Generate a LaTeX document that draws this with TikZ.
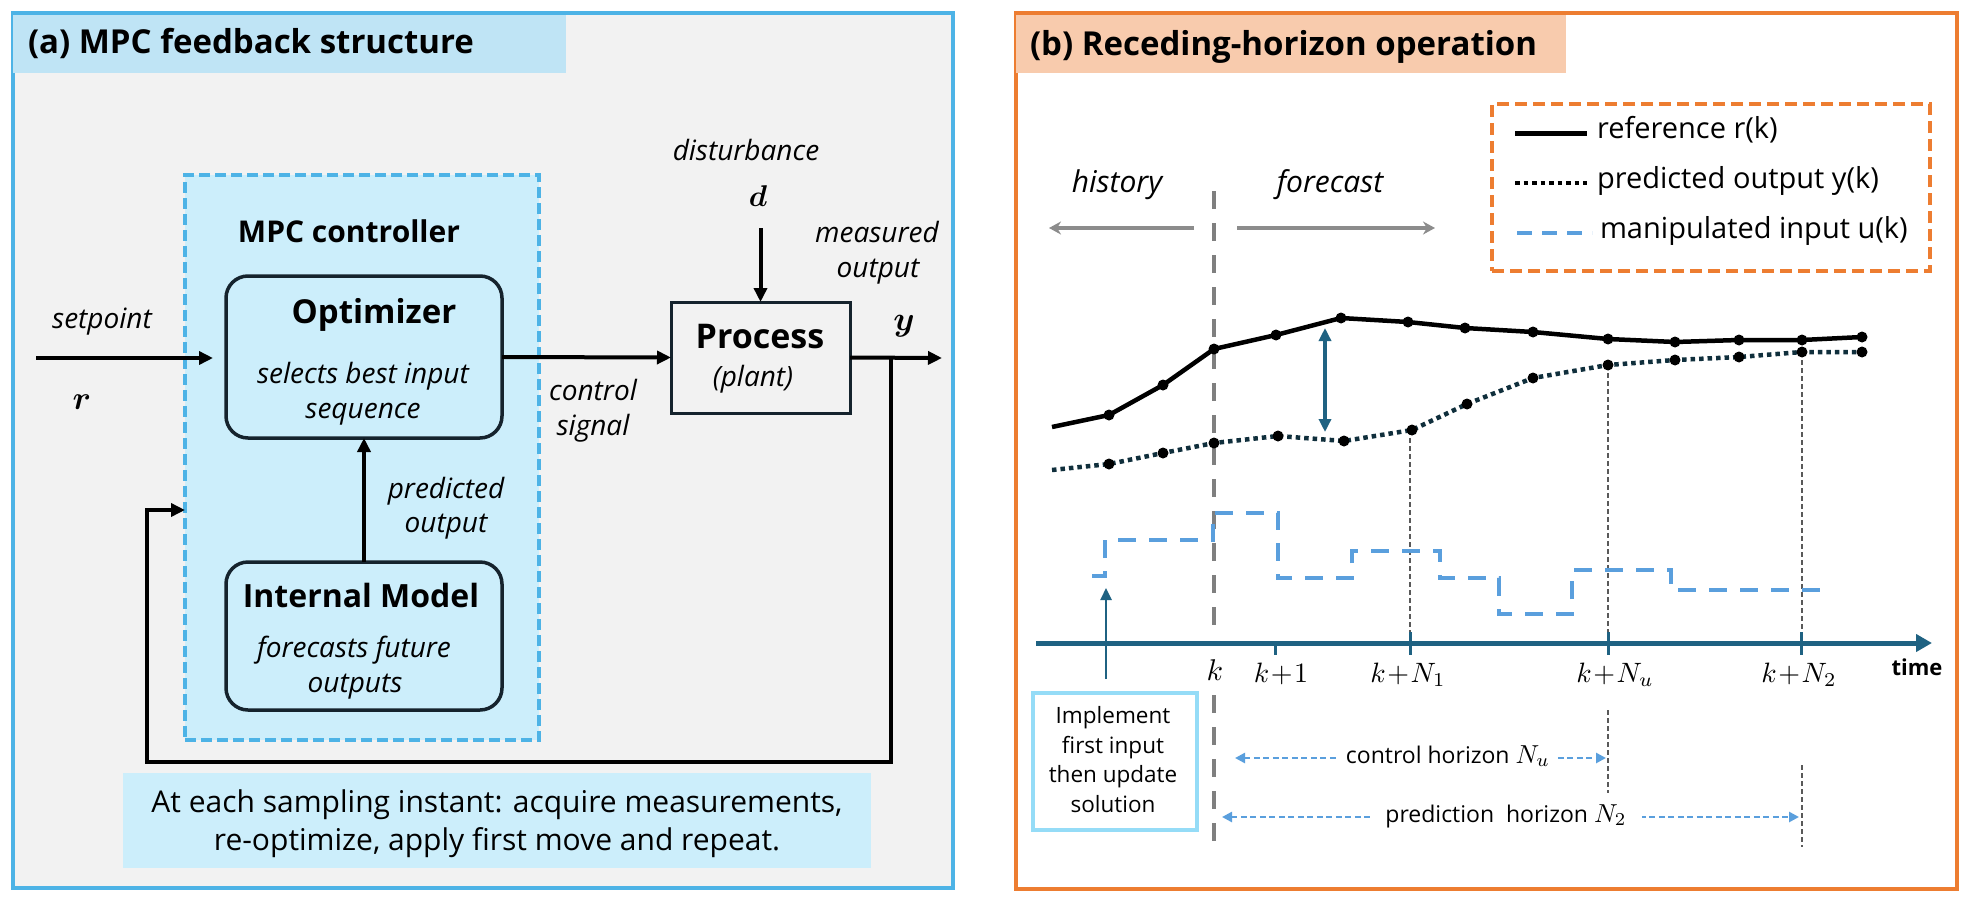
\RequirePackage{fix-cm}
\documentclass[tikz,border=0pt]{standalone}
\usepackage{amsmath}
\usepackage{bm}
\usepackage{graphicx}
\usepackage{fontspec}
\setmainfont{Open Sans}
\usetikzlibrary{arrows.meta}
\definecolor{blueA}{HTML}{4DB3E6}
\definecolor{bgA}{HTML}{F2F2F2}
\definecolor{titleA}{HTML}{BFE4F5}
\definecolor{ctrlFill}{HTML}{CCEEFB}
\definecolor{darkB}{HTML}{15232D}
\definecolor{orangeB}{HTML}{ED7D31}
\definecolor{titleB}{HTML}{F8CBAD}
\definecolor{tealC}{HTML}{1F6282}
\definecolor{blueD}{HTML}{5A9FDD}
\definecolor{cyanB}{HTML}{95DCF7}
\definecolor{grayK}{HTML}{7F7F7F}
\definecolor{grayArr}{HTML}{8C8C8C}
\definecolor{dotC}{HTML}{102F3C}
\newcommand\fsz[1]{\fontsize{#1}{#1}\selectfont}
\newcommand\kp{\mkern1mu{+}\mkern1mu}
% math at 10pt, scaled up
\newcommand\mth[2]{\scalebox{#1}{\fsz{10}$#2$}}
\begin{document}
\begin{tikzpicture}[x=1pt,y=-1pt,
  every node/.style={inner sep=0pt, outer sep=0pt},
  bfA/.style={anchor=base, font=\fsz{#1}\bfseries},
  itA/.style={anchor=base, font=\fsz{#1}\itshape},
  rgA/.style={anchor=base, font=\fsz{#1}},
  arr/.style={-{Triangle[length=14pt,width=13pt]}, line width=4pt},
  blockbox/.style={draw=darkB, line width=3.5pt, fill=ctrlFill, rounded corners=22pt},
  kline/.style={grayK, line width=4.5pt, dash pattern=on 18pt off 14pt},
  thinv/.style={black!65, line width=1.5pt, dash pattern=on 5pt off 3pt},
  hz/.style={blueD, line width=2.5pt, dash pattern=on 6pt off 3.5pt,
     {Triangle[length=10pt,width=10pt]}-{Triangle[length=10pt,width=10pt]}},
  grarr/.style={grayArr, line width=4pt, -{Stealth[length=12pt,width=13pt]}},
  dotline/.style={dotC, line width=4.5pt, dash pattern=on 4.5pt off 4pt},
  udash/.style={blueD, line width=4.5pt, dash pattern=on 18pt off 13pt},
]
\useasboundingbox (0,0) rectangle (1968,900);
% ================= panel (a) =================
\fill[bgA] (13,13) rectangle (953,888);
\draw[blueA, line width=4.5pt] (13,13) rectangle (953,888);
\fill[titleA] (13,15) rectangle (566,73);
\node[bfA=33, anchor=base west] (titleAT) at (28,53) {(a) MPC feedback structure};

\node[draw=blueA, line width=3.5pt, dash pattern=on 11pt off 5pt, fill=ctrlFill,
      minimum width=354pt, minimum height=565pt] (ctrl) at (362,457.5) {};
\node[bfA=30] (ctrlT) at (349,242) {MPC controller};

\node[blockbox, minimum width=276pt, minimum height=162pt] (opt) at (364,357) {};
\node[bfA=33] (optT) at (374,323) {Optimizer};
\node[itA=28] (optS1) at (363,383) {selects best input};
\node[itA=28] (optS2) at (363,418) {sequence};

\node[blockbox, minimum width=276pt, minimum height=148pt] (im) at (364,636) {};
\node[bfA=32] (imT) at (361,607) {Internal Model};
\node[itA=28] (imS1) at (354,657) {forecasts future};
\node[itA=28] (imS2) at (355,692) {outputs};

\node[draw=darkB, line width=3pt, fill=bgA, minimum width=179pt, minimum height=111pt] (proc) at (760.5,357.5) {};
\node[bfA=34] (procT) at (760,348) {Process};
\node[itA=28] (procS) at (753,386) {(plant)};

\node[itA=28] (dist) at (746,160) {disturbance};
\node[anchor=base] (dT) at (758,206) {\mth{3.0}{\bm{d}}};
\node[itA=28] (meas1) at (877,242) {measured};
\node[itA=28] (meas2) at (878,277) {output};
\node[anchor=base] (yT) at (904,330) {\mth{3.4}{\bm{y}}};
\node[itA=28] (spT) at (102,328) {setpoint};
\node[anchor=base] (rT) at (82,409) {\mth{3.3}{\bm{r}}};
\node[itA=28] (cs1) at (593,400) {control};
\node[itA=28] (cs2) at (593,435) {signal};
\node[itA=28] (po1) at (446,498) {predicted};
\node[itA=28] (po2) at (446,532) {output};

\fill[ctrlFill] (123,773) rectangle (871,868);
\node[rgA=30] (note1) at (497,812) {At each sampling instant: acquire measurements,};
\node[rgA=30] (note2) at (497,850) {re-optimize, apply first move and repeat.};

% connectors (a)
\coordinate (rin) at (36,358);
\coordinate (rtip) at (213,358);
\draw[arr] (rin) -- (rtip);
\draw[arr] (opt.east) -- (proc.west);
\coordinate (dtop) at (760.5,228);
\draw[arr] (dtop) -- (proc.north);
\coordinate (yout) at (942,358);
\draw[arr] (proc.east) -- (yout);
\draw[arr] (im.north) -- (opt.south);
\coordinate (tap) at (891,358);
\coordinate (fb1) at (891,762);
\coordinate (fb2) at (147,762);
\coordinate (fb3) at (147,510);
\draw[arr] (tap) -- (fb1) -- (fb2) -- (fb3) -- (ctrl.west |- fb3);

% ================= panel (b) =================
\fill[white] (1016,13) rectangle (1957,889);
\draw[orangeB, line width=4.5pt] (1016,13) rectangle (1957,889);
\fill[titleB] (1016,15) rectangle (1566,73);
\node[bfA=33, anchor=base west] (titleBT) at (1030,55) {(b) Receding-horizon operation};

% legend
\node[draw=orangeB, line width=3.5pt, dash pattern=on 12pt off 6pt,
      minimum width=438pt, minimum height=167pt] (legend) at (1711,187.5) {};
\draw[black, line width=5pt] (1515,133) -- (1587,133);
\draw[dotline, black] (1515,183) -- (1587,183);
\draw[blueD, line width=4.5pt, dash pattern=on 15pt off 10pt] (1517,233) -- (1592,233);
\node[rgA=29, anchor=base west] (lg1) at (1597,138) {reference r(k)};
\node[rgA=29, anchor=base west] (lg2) at (1597,188) {predicted output y(k)};
\node[rgA=29, anchor=base west] (lg3) at (1600,238) {manipulated input u(k)};

% history / forecast
\node[itA=30] (hist) at (1117,192) {history};
\node[itA=30] (fore) at (1330,192) {forecast};
\coordinate (ha) at (1194,228); \coordinate (hb) at (1049,228);
\coordinate (fa) at (1237,228); \coordinate (fb) at (1435,228);
\draw[grarr] (ha) -- (hb);
\draw[grarr] (fa) -- (fb);

% k line
\draw[kline] (1214,191) -- (1214,632);
\draw[kline] (1214,695) -- (1214,850);

% thin verticals
\draw[thinv] (1410,430) -- (1410,643);
\draw[thinv] (1608,365) -- (1608,643);
\draw[thinv] (1608,710) -- (1608,793);
\draw[thinv] (1802,352) -- (1802,643);
\draw[thinv] (1802,765) -- (1802,847);

% reference curve
\draw[black, line width=4.5pt, line join=round] plot coordinates {(1052,427) (1109,415) (1163,385) (1214,349) (1276,335) (1341,318) (1408,322) (1465,328) (1533,332) (1608,339) (1675,342) (1739,340) (1802,340) (1862,337)};
\foreach \px/\py in {1109/415,1163/385,1214/349,1276/335,1341/318,1408/322,1465/328,1533/332,1608/339,1675/342,1739/340,1802/340,1862/337}
  \fill[black] (\px,\py) circle (5.5pt);
% predicted curve
\draw[dotline] plot coordinates {(1052,470) (1109,464) (1163,453) (1214,443) (1278,436) (1344,441) (1412,430) (1467,404) (1533,378) (1608,365) (1675,360) (1739,357) (1802,352) (1862,352)};
\foreach \px/\py in {1109/464,1163/453,1214/443,1278/436,1344/441,1412/430,1467/404,1533/378,1608/365,1675/360,1739/357,1802/352,1862/352}
  \fill[black] (\px,\py) circle (5.5pt);

% double arrow
\coordinate (da) at (1325,328); \coordinate (db) at (1325,432);
\draw[tealC, line width=3.5pt, {Triangle[length=13pt,width=12pt]}-{Triangle[length=13pt,width=12pt]}] (da) -- (db);

% manipulated input
\draw[udash] (1092,576) -- (1105,576) -- (1105,540) -- (1213,540) -- (1213,513) -- (1278,513) -- (1278,578) -- (1352,578) -- (1352,551) -- (1440,551) -- (1440,578) -- (1499,578) -- (1499,614) -- (1572,614) -- (1572,570) -- (1671,570) -- (1671,590) -- (1829,590);

% time axis
\coordinate (axl) at (1036,643); \coordinate (axr) at (1932,643);
\draw[tealC, line width=5pt, -{Triangle[length=16pt,width=17pt]}] (axl) -- (axr);
\draw[tealC, line width=3pt] (1275,643) -- (1275,655);
\draw[tealC, line width=3pt] (1410,632) -- (1410,655);
\draw[tealC, line width=3pt] (1608,632) -- (1608,655);
\draw[tealC, line width=3pt] (1801,632) -- (1801,655);
\node[anchor=base] (lk) at (1215,680) {\mth{3.0}{k}};
\node[anchor=base] (lk1) at (1281,682) {\mth{2.8}{k\kp 1}};
\node[anchor=base] (lkn1) at (1408,682) {\mth{2.8}{k\kp N_1}};
\node[anchor=base] (lknu) at (1615,682) {\mth{2.8}{k\kp N_u}};
\node[anchor=base] (lkn2) at (1799,682) {\mth{2.8}{k\kp N_2}};
\node[bfA=22] (ltime) at (1917,675) {time};

% implement box
\node[draw=cyanB, line width=4pt, fill=white, minimum width=164pt, minimum height=137pt] (impl) at (1115,761.5) {};
\node[rgA=22.5] (im1) at (1113,723) {Implement};
\node[rgA=22.5] (im2) at (1113,753) {first input};
\node[rgA=22.5] (im3) at (1113,782) {then update};
\node[rgA=22.5] (im4) at (1113,812) {solution};
\coordinate (upa) at (1106,679); \coordinate (upb) at (1106,588);
\draw[tealC, line width=2.5pt, -{Triangle[length=12pt,width=11pt]}] (upa) -- (upb);

% horizons
\coordinate (c1) at (1235,758); \coordinate (c2) at (1606,758);
\draw[hz] (c1) -- (c2);
\node[rgA=23, fill=white, inner xsep=7pt, inner ysep=3pt] (chz) at (1448,763) {control horizon \mth{2.6}{N_u}};
\coordinate (p1) at (1222,817); \coordinate (p2) at (1799,817);
\draw[hz] (p1) -- (p2);
\node[rgA=23, fill=white, inner xsep=15pt, inner ysep=3pt] (phz) at (1506,822) {prediction\ \ horizon \mth{2.6}{N_2}};
\end{tikzpicture}
\end{document}
